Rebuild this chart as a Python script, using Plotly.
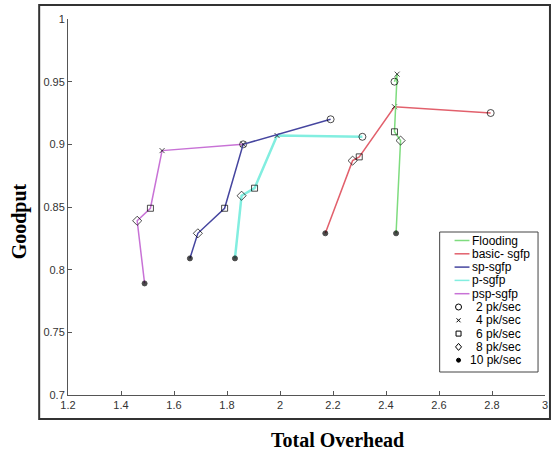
import plotly.graph_objects as go

rates = ["2 pk/sec", "4 pk/sec", "6 pk/sec", "8 pk/sec", "10 pk/sec"]
series_names = ["Flooding", "basic- sgfp", "sp-sgfp", "p-sgfp", "psp-sgfp"]

flood_x = [2.432, 2.442, 2.432, 2.455, 2.438]
flood_y = [0.950, 0.956, 0.910, 0.903, 0.829]
basic_x = [2.795, 2.432, 2.299, 2.274, 2.171]
basic_y = [0.925, 0.930, 0.890, 0.887, 0.829]
sp_x = [2.191, 1.861, 1.791, 1.690, 1.660]
sp_y = [0.920, 0.900, 0.849, 0.829, 0.809]
p_x = [2.311, 1.989, 1.904, 1.855, 1.830]
p_y = [0.906, 0.907, 0.865, 0.859, 0.809]
psp_x = [1.861, 1.555, 1.511, 1.461, 1.489]
psp_y = [0.900, 0.895, 0.849, 0.839, 0.789]

colors = ["#7edc7e", "#e2606c", "#45459f", "#82eee0", "#c872d6"]
widths = [1.5, 1.5, 1.5, 2.5, 1.5]
symbols = ["circle-open", "x-thin-open", "square-open", "diamond-open", "circle"]
sizes = [7, 5, 6, 7, 5]

xs = [flood_x, basic_x, sp_x, p_x, psp_x]
ys = [flood_y, basic_y, sp_y, p_y, psp_y]

W, H = 555, 453
ML, MR, MT, MB = 68, 7, 19, 58
PW, PH = W - ML - MR, H - MT - MB


def px(xp):
    return (xp - ML) / PW


def py(yp):
    return (H - MB - yp) / PH


fig = go.Figure()

for i in [3, 4, 2, 1, 0]:
    fig.add_trace(go.Scatter(
        x=xs[i], y=ys[i], mode="lines+markers", showlegend=False,
        line=dict(color=colors[i], width=widths[i]),
        marker=dict(symbol=symbols, size=sizes, color="black",
                    line=dict(color="black", width=1)),
    ))

axis_common = dict(showgrid=False, zeroline=False, showline=True, linecolor="#555555",
                   linewidth=1, ticks="inside", ticklen=4, tickcolor="#555555",
                   tickfont=dict(family="Liberation Sans, Arial", size=11, color="#333333"),
                   mirror=False)

shapes = [dict(type="rect", xref="paper", yref="paper",
               x0=px(39), x1=px(553), y0=py(419), y1=py(5),
               line=dict(color="#333333", width=2))]
annotations = []

# custom legend (compact, like the original)
shapes.append(dict(type="rect", xref="paper", yref="paper",
                   x0=px(442), x1=px(541), y0=py(372), y1=py(232),
                   line=dict(color="#444444", width=1), fillcolor="white", layer="above"))
row0, dy = 240.5, 13.3
lfont = dict(family="Liberation Sans, Arial", size=12, color="black")
for i, name in enumerate(series_names):
    yy = py(row0 + dy * i)
    shapes.append(dict(type="line", xref="paper", yref="paper",
                       x0=px(457), x1=px(472), y0=yy, y1=yy,
                       line=dict(color=colors[i], width=1.5), layer="above"))
    annotations.append(dict(x=px(473), y=yy, xref="paper", yref="paper", text=name,
                            showarrow=False, xanchor="left", yanchor="middle", font=lfont))
mx = px(461)
for j, r in enumerate(rates):
    k = j + 5
    yy = py(row0 + dy * k)
    base = dict(xref="paper", yref="paper", xsizemode="pixel", ysizemode="pixel",
                xanchor=mx, yanchor=yy, layer="above", line=dict(color="black", width=1))
    s = symbols[j]
    if s == "circle-open":
        shapes.append(dict(type="circle", x0=-3, x1=3, y0=-3, y1=3, **base))
    elif s == "x-thin-open":
        shapes.append(dict(type="path", path="M-2,-2L2,2M-2,2L2,-2", **base))
    elif s == "square-open":
        shapes.append(dict(type="rect", x0=-2.5, x1=2.5, y0=-2.5, y1=2.5, **base))
    elif s == "diamond-open":
        shapes.append(dict(type="path", path="M0,-3.5L3,0L0,3.5L-3,0Z", **base))
    else:
        shapes.append(dict(type="circle", x0=-2, x1=2, y0=-2, y1=2, fillcolor="black", **base))
    annotations.append(dict(x=px(526), y=yy, xref="paper", yref="paper", text=r,
                            showarrow=False, xanchor="right", yanchor="middle", font=lfont))

# axis titles
tfont = dict(family="Liberation Serif, Times New Roman", size=20, color="black")
annotations.append(dict(x=px(339), y=py(440), xref="paper", yref="paper",
                        text="<b>Total Overhead</b>", showarrow=False,
                        xanchor="center", yanchor="middle", font=tfont))
annotations.append(dict(x=px(19), y=py(221), xref="paper", yref="paper",
                        text="<b>Goodput</b>", showarrow=False, textangle=-90,
                        xanchor="center", yanchor="middle", font=tfont))

fig.update_layout(
    width=W, height=H,
    margin=dict(l=ML, r=MR, t=MT, b=MB),
    paper_bgcolor="white", plot_bgcolor="white",
    showlegend=False,
    xaxis=dict(range=[1.2, 3.0], tickvals=[1.2, 1.4, 1.6, 1.8, 2, 2.2, 2.4, 2.6, 2.8, 3],
               ticktext=["1.2", "1.4", "1.6", "1.8", "2", "2.2", "2.4", "2.6", "2.8", "3"],
               **axis_common),
    yaxis=dict(range=[0.7, 1.0], tickvals=[0.7, 0.75, 0.8, 0.85, 0.9, 0.95, 1.0],
               ticktext=["0.7", "0.75", "0.8", "0.85", "0.9", "0.95", "1"],
               **axis_common),
    shapes=shapes,
    annotations=annotations,
)

fig.write_html("out.html")
